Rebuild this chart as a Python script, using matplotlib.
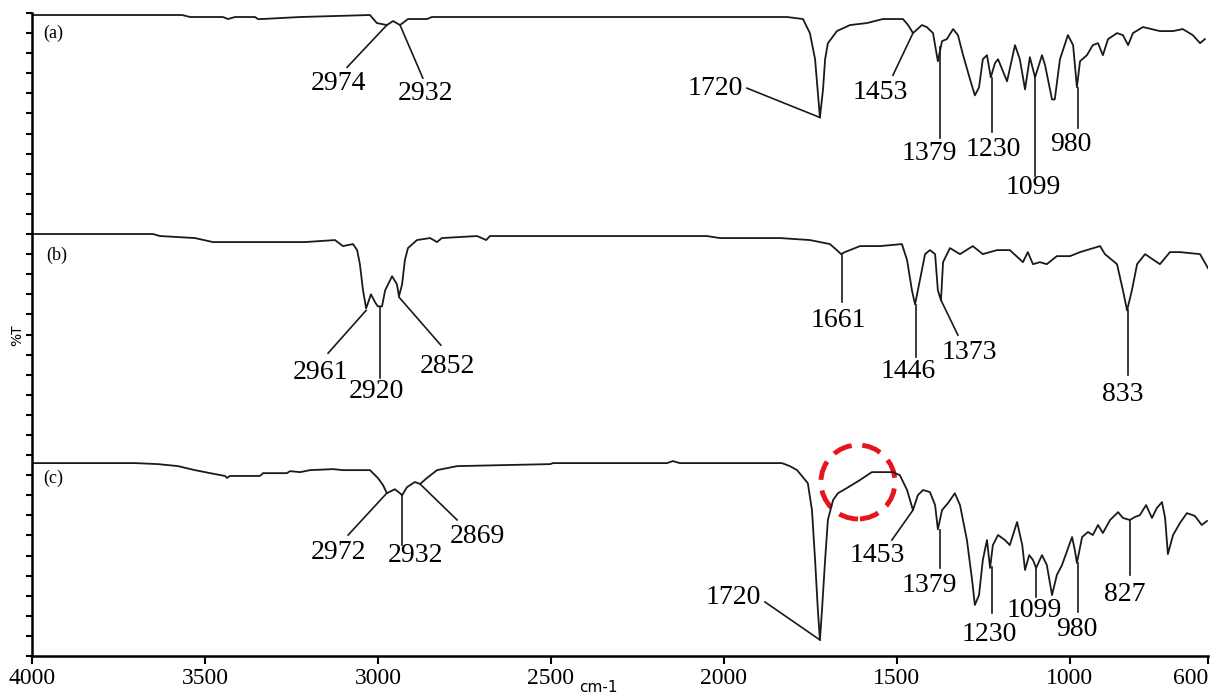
import matplotlib
matplotlib.use("Agg")
import matplotlib.pyplot as plt
from matplotlib.patches import Ellipse

# spectrum (a)
wn_a = [4000, 3566, 3543, 3448, 3433, 3413, 3355, 3347, 3335, 3225, 3023, 3003, 2974, 2956,
        2936, 2913, 2858, 2844, 1817, 1771, 1751, 1736, 1722, 1713, 1707, 1699, 1690, 1673,
        1635, 1586, 1540, 1482, 1467, 1453, 1427, 1413, 1395, 1381, 1369, 1355, 1337, 1323,
        1308, 1288, 1274, 1262, 1251, 1239, 1228, 1216, 1207, 1181, 1158, 1144, 1129, 1115,
        1100, 1080, 1071, 1051, 1043, 1028, 1005, 990, 979, 970, 950, 933, 918, 904, 889,
        863, 846, 831, 817, 788, 739, 701, 673, 644, 623, 609]
t_a = [31.9, 31.9, 31.8, 31.8, 31.7, 31.8, 31.8, 31.7, 31.7, 31.8, 31.9, 31.5, 31.4, 31.6,
       31.4, 31.7, 31.7, 31.8, 31.8, 31.7, 31.0, 29.7, 26.8, 28.2, 29.7, 30.5, 30.7, 31.1,
       31.4, 31.5, 31.7, 31.7, 31.4, 31.0, 31.4, 31.3, 31.0, 29.6, 30.6, 30.7, 31.2, 30.9,
       29.9, 28.7, 27.9, 28.3, 29.7, 29.9, 28.8, 29.5, 29.7, 28.6, 30.4, 29.7, 28.2, 29.8,
       28.8, 29.9, 29.4, 27.7, 27.7, 29.7, 30.9, 30.4, 28.3, 29.6, 29.9, 30.4, 30.5, 29.9, 30.7,
       31.0, 30.9, 30.4, 31.0, 31.3, 31.1, 31.1, 31.2, 30.9, 30.5, 30.7]

# spectrum (b)
wn_b = [4000, 3650, 3630, 3529, 3477, 3211, 3124, 3101, 3072, 3060, 3052, 3043, 3034, 3020,
        3008, 3000, 2988, 2979, 2959, 2945, 2939, 2930, 2922, 2913, 2887, 2849, 2829, 2815,
        2713, 2687, 2676, 2049, 2011, 1838, 1751, 1693, 1673, 1661, 1650, 1606, 1548, 1485,
        1470, 1456, 1447, 1433, 1418, 1404, 1389, 1381, 1372, 1366, 1346, 1317, 1280, 1251,
        1210, 1173, 1135, 1121, 1106, 1086, 1066, 1037, 999, 970, 912, 898, 863, 846, 834,
        820, 805, 782, 739, 710, 681, 623, 600]
t_b = [21.0, 21.0, 20.9, 20.8, 20.6, 20.6, 20.7, 20.4, 20.5, 20.2, 19.5, 18.2, 17.3, 18.0,
       17.6, 17.4, 17.4, 18.2, 18.9, 18.5, 17.9, 18.5, 19.7, 20.3, 20.7, 20.8, 20.6, 20.8,
       20.9, 20.7, 20.9, 20.9, 20.8, 20.8, 20.7, 20.5, 20.2, 20.0, 20.1, 20.4, 20.4, 20.5,
       19.7, 18.2, 17.5, 18.7, 20.0, 20.2, 20.0, 18.2, 17.7, 19.6, 20.3, 20.0, 20.4, 20.0,
       20.2, 20.2, 19.6, 20.1, 19.5, 19.6, 19.5, 19.9, 19.9, 20.1, 20.4, 20.0, 19.5, 18.2, 17.2,
       18.2, 19.5, 20.0, 19.5, 20.1, 20.1, 20.0, 19.3]

# spectrum (c)
wn_c = [4000, 3702, 3636, 3578, 3529, 3485, 3442, 3436, 3428, 3341, 3332, 3263, 3254, 3225,
        3196, 3130, 3101, 3023, 3000, 2985, 2974, 2951, 2936, 2930, 2916, 2893, 2878, 2858,
        2829, 2771, 2502, 2494, 2164, 2147, 2127, 1832, 1809, 1788, 1757, 1745, 1736, 1728,
        1722, 1716, 1707, 1699, 1684, 1670, 1644, 1606, 1572, 1511, 1491, 1470, 1453, 1439,
        1424, 1404, 1389, 1381, 1369, 1352, 1332, 1317, 1297, 1282, 1274, 1262, 1251, 1239,
        1230, 1222, 1207, 1187, 1173, 1152, 1137, 1129, 1117, 1106, 1097, 1080, 1066, 1051,
        1037, 1022, 993, 985, 979, 964, 947, 933, 918, 904, 883, 860, 846, 826, 811, 797,
        779, 762, 748, 733, 724, 716, 701, 681, 661, 638, 618, 603]
t_c = [9.6, 9.6, 9.55, 9.45, 9.25, 9.1, 8.96, 8.86, 8.96, 8.96, 9.1, 9.1, 9.2, 9.15,
       9.25, 9.3, 9.25, 9.25, 8.86, 8.5, 8.1, 8.3, 8.1, 8.0, 8.4, 8.66, 8.56, 8.86,
       9.25, 9.45, 9.55, 9.6, 9.6, 9.7, 9.6, 9.6, 9.45, 9.25, 8.6, 7.26, 4.78, 2.29,
       0.8, 2.29, 4.78, 6.77, 7.76, 8.1, 8.36, 8.76, 9.15, 9.15, 9.0, 8.26, 7.26, 8.0,
       8.26, 8.16, 7.51, 6.3, 7.26, 7.6, 8.1, 7.51, 5.77, 3.78, 2.54, 3.03, 4.78, 5.77,
       4.38, 5.52, 6.02, 5.77, 5.52, 6.67, 5.52, 4.28, 5.02, 4.78, 4.38, 5.02, 4.53, 3.03,
       4.03, 4.53, 5.92, 5.27, 4.63, 5.92, 6.17, 6.02, 6.52, 6.12, 6.77, 7.16, 6.87, 6.77, 6.92, 7.01,
       7.51, 6.87, 7.36, 7.66, 6.87, 5.07, 6.02, 6.62, 7.11, 6.97, 6.52, 6.72]

xticks = [4000, 3500, 3000, 2500, 2000, 1500, 1000, 600]

# peak labels: text, peak (wn, y), leader end (wn, y), text centre (wn, y)
peaks = [
    ("2974", 2974, 31.4, 3089, 29.3, 3115, 28.5),
    ("2932", 2936, 31.4, 2870, 28.76, 2861, 28.0),
    ("1720", 1722, 26.8, 1933, 28.26, 2025, 28.26),
    ("1453", 1453, 31.0, 1511, 28.9, 1546, 28.06),
    ("1379", 1375, 30.3, 1375, 25.8, 1407, 25.0),
    ("1230", 1225, 28.76, 1225, 26.07, 1222, 25.2),
    ("1099", 1100, 28.8, 1100, 23.9, 1106, 23.3),
    ("980", 976, 28.26, 976, 26.3, 996, 25.47),
    ("2961", 3034, 17.2, 3144, 15.07, 3167, 14.13),
    ("2920", 2994, 17.36, 2994, 13.83, 3005, 13.18),
    ("2852", 2939, 17.86, 2818, 15.47, 2800, 14.43),
    ("1661", 1658, 19.95, 1658, 17.61, 1670, 16.72),
    ("1446", 1444, 17.46, 1444, 14.88, 1467, 14.18),
    ("1373", 1372, 17.71, 1323, 15.97, 1291, 15.12),
    ("833", 831, 17.21, 831, 13.98, 846, 13.03),
    ("2972", 2974, 8.11, 3086, 6.02, 3115, 5.17),
    ("2932", 2930, 8.01, 2930, 5.52, 2890, 4.98),
    ("2869", 2878, 8.56, 2771, 6.77, 2713, 5.97),
    ("1720", 1722, 0.8, 1881, 2.69, 1973, 2.89),
    ("1453", 1453, 7.26, 1514, 5.77, 1557, 5.02),
    ("1379", 1375, 6.27, 1375, 4.38, 1407, 3.53),
    ("1230", 1225, 4.43, 1225, 2.14, 1233, 1.09),
    ("1099", 1097, 4.38, 1097, 2.94, 1103, 2.24),
    ("980", 976, 4.63, 976, 2.19, 979, 1.34),
    ("827", 826, 6.77, 826, 4.03, 840, 3.08),
]

fig = plt.figure(figsize=(12.23, 6.98), dpi=100)
ax = fig.add_axes([32 / 1223, 42 / 698, 1176 / 1223, 643 / 698])

for wn, t in [(wn_a, t_a), (wn_b, t_b), (wn_c, t_c)]:
    ax.plot(wn, t, color="#1a1a1a", lw=1.3)

serif = "Liberation Serif"
for lab, px, py, ex, ey, tx, ty in peaks:
    ax.plot([px, ex], [py, ey], color="#1a1a1a", lw=1.2)
    ax.text(tx, ty, lab, fontsize=20, family=serif, ha="center", va="center")

ax.text(3939, 31.0, "(a)", fontsize=13, family=serif, ha="center", va="center")
ax.text(3928, 19.95, "(b)", fontsize=13, family=serif, ha="center", va="center")
ax.text(3939, 8.86, "(c)", fontsize=13, family=serif, ha="center", va="center")

# red dashed circle around the 1600 region of (c)
ax.add_patch(Ellipse((1612, 8.66), 214, 3.68, fill=False, edgecolor="#e8141c",
                     lw=3.5, linestyle=(0, (4, 2.2))))

ax.set_xlim(4000, 600)
ax.set_ylim(0, 32)
ax.set_xticks(xticks)
ax.set_xticklabels([str(v) for v in xticks], family=serif, fontsize=17)
# keep the last label inside the picture
ax.get_xticklabels()[-1].set_horizontalalignment("right")
ax.yaxis.set_major_locator(matplotlib.ticker.MultipleLocator(1))
ax.set_yticklabels([])
ax.tick_params(axis="y", length=4, width=1.5, direction="out")
ax.tick_params(axis="x", length=6, width=1.5, direction="out", pad=3)
for s in ["top", "right"]:
    ax.spines[s].set_visible(False)
for s in ["left", "bottom"]:
    ax.spines[s].set_linewidth(1.8)

fig.text(17 / 1223, 1 - 335 / 698, "%T", rotation=90, fontsize=10, ha="center", va="center",
         family="DejaVu Sans")
fig.text(598 / 1223, 1 - 688 / 698, "cm-1", fontsize=11, ha="center", va="center",
         family="DejaVu Sans")

fig.savefig("out.png", dpi=100)
